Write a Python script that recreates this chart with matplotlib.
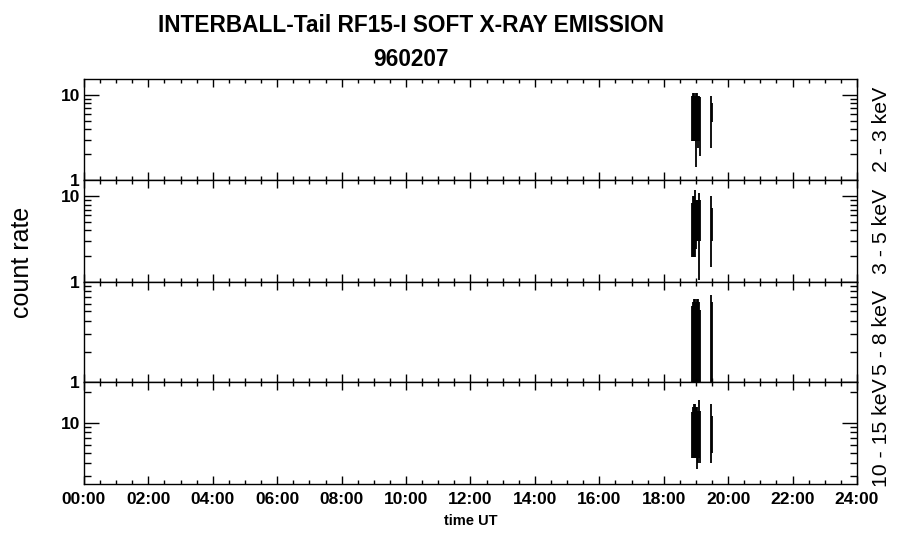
import matplotlib
matplotlib.use('Agg')
import matplotlib.pyplot as plt
from matplotlib.ticker import LogLocator, NullFormatter, MultipleLocator, FixedLocator, FixedFormatter
import numpy as np

plt.rcParams['font.family'] = ['Liberation Sans', 'DejaVu Sans']

# time of each drawn column (hours UT)
t_hr = [18.88, 18.91, 18.94, 18.98, 19.01, 19.04, 19.07, 19.10, 19.13, 19.47, 19.50]

# min / max count rate in each column, per energy band
hi_2_3 = [9.9, 10.5, 10.5, 9.9, 10.5, 10.5, 9.9, 9.9, 9.6, 9.9, 8.0]
lo_2_3 = [2.9, 2.9, 2.9, 2.9, 1.44, 2.9, 2.4, 2.9, 1.93, 2.4, 4.8]

hi_3_5 = [8.4, 10.0, 10.0, 11.7, 8.95, 8.95, 8.95, 10.9, 8.95, 10.0, 7.4]
lo_3_5 = [1.96, 1.96, 1.96, 1.96, 2.43, 3.03, 3.03, 1.06, 3.03, 1.49, 3.0]

hi_5_8 = [5.65, 6.2, 6.6, 6.6, 6.2, 6.6, 6.6, 6.2, 5.2, 7.3, 6.2]
lo_5_8 = [1.0, 1.0, 1.0, 1.0, 1.0, 1.0, 1.0, 1.0, 1.0, 1.0, 1.0]

hi_10_15 = [12.6, 14.1, 15.1, 15.1, 14.1, 14.1, 12.9, 16.8, 12.9, 15.1, 11.5]
lo_10_15 = [4.53, 4.53, 4.53, 4.53, 4.53, 3.5, 4.0, 4.53, 4.0, 4.0, 5.0]

bands = ['2 - 3 keV', '3 - 5 keV', '5 - 8 keV', '10 - 15 keV']
highs = [hi_2_3, hi_3_5, hi_5_8, hi_10_15]
lows = [lo_2_3, lo_3_5, lo_5_8, lo_10_15]
ylims = [(1, 15.5), (1, 15.5), (1, 9.8), (2.5, 25)]
yticks = [[1, 10], [1, 10], [1], [10]]
ylabels = [['1', '10'], ['1', '10'], ['1'], ['10']]

time_ticks = [0, 2, 4, 6, 8, 10, 12, 14, 16, 18, 20, 22, 24]
time_labels = ['00:00', '02:00', '04:00', '06:00', '08:00', '10:00', '12:00',
               '14:00', '16:00', '18:00', '20:00', '22:00', '24:00']

fig, axes = plt.subplots(4, 1, sharex=True, figsize=(9, 5.48), dpi=100,
                         gridspec_kw={'height_ratios': [101, 102, 100, 102]})
fig.subplots_adjust(left=0.0933, right=0.9522, bottom=0.1168, top=0.8558, hspace=0)

for i, ax in enumerate(axes):
    ax.vlines(t_hr, lows[i], highs[i], color='k', lw=1.3)
    ax.set_yscale('log')
    ax.set_ylim(ylims[i])
    ax.set_xlim(0, 24)

    ax.yaxis.set_major_locator(FixedLocator(yticks[i]))
    ax.yaxis.set_major_formatter(FixedFormatter(ylabels[i]))
    ax.yaxis.set_minor_locator(LogLocator(base=10, subs=np.arange(2, 10)))
    ax.yaxis.set_minor_formatter(NullFormatter())

    ax.xaxis.set_major_locator(FixedLocator(time_ticks))
    ax.xaxis.set_minor_locator(MultipleLocator(0.5))

    ax.tick_params(axis='x', which='major', direction='in', top=True, bottom=True,
                   length=5.5, width=1, pad=6, labelsize=12.5)
    ax.tick_params(axis='x', which='minor', direction='in', top=True, bottom=True,
                   length=2.7, width=1)
    ax.tick_params(axis='y', which='major', direction='in', left=True, right=True,
                   length=10.8, width=1, pad=3, labelsize=12.5)
    ax.tick_params(axis='y', which='minor', direction='in', left=True, right=True,
                   length=5.2, width=1)
    for sp in ax.spines.values():
        sp.set_linewidth(1)
    for lab in ax.get_yticklabels():
        lab.set_fontweight('bold')

    # band label on the right
    ax.text(1.032, 0.5, bands[i], transform=ax.transAxes, rotation=90,
            ha='center', va='center', fontsize=15.3)

axes[-1].set_xticklabels(time_labels, fontweight='bold')
axes[-1].set_xlabel('time UT', fontsize=10.5, fontweight='bold', labelpad=5)

fig.text(0.457, 0.954, 'INTERBALL-Tail RF15-I SOFT X-RAY EMISSION',
         ha='center', va='center', fontsize=16.3, fontweight='bold')
fig.text(0.457, 0.892, '960207', ha='center', va='center', fontsize=16.3, fontweight='bold')
fig.text(0.024, 0.522, 'count rate', rotation=90, ha='center', va='center', fontsize=18)

plt.savefig('out.png', dpi=100)
